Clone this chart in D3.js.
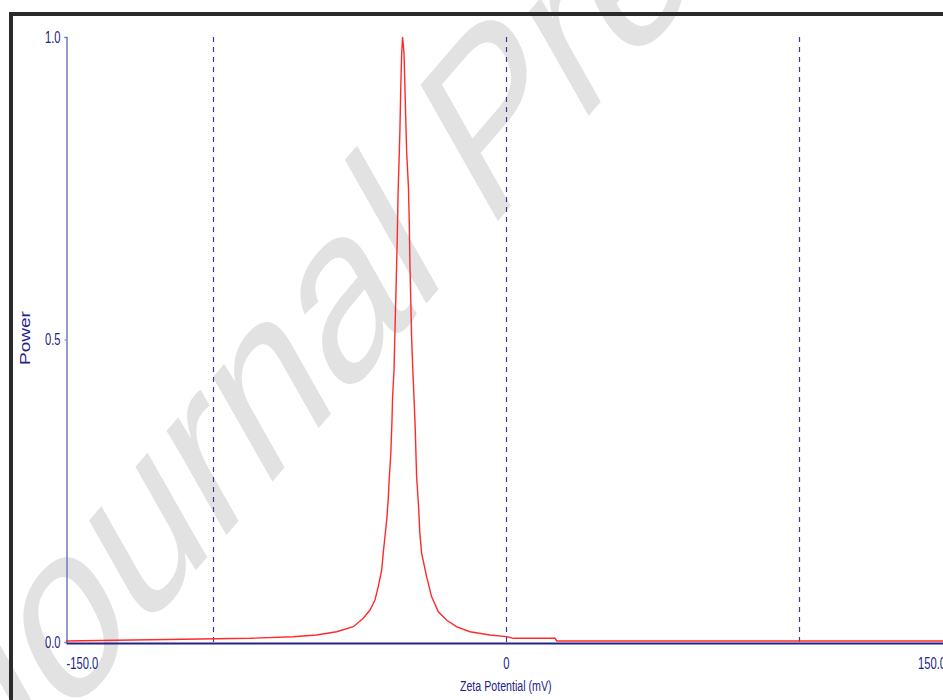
<!DOCTYPE html>
<html>
<head>
<meta charset="utf-8">
<script src="https://cdn.jsdelivr.net/npm/d3@7"></script>
<style>
  body { margin: 0; background: #fff; }
  svg { display: block; font-family: "Liberation Sans", Arial, sans-serif; }
</style>
</head>
<body>
<div id="chart"></div>
<script>
// zeta potential distribution
const zeta = [-150, -87.3, -72.5, -64.5, -57.7, -52.0, -48.6, -46.3, -44.6, -43.5, -42.3, -41.8, -41.2,
  -40.6, -40.1, -39.7, -39.2, -38.8, -38.6, -38.1, -37.8, -37.4, -37.0, -36.7, -36.3, -36.1, -35.8,
  -35.5, -35.2, -34.7, -34.4, -34.1, -33.8, -33.2, -32.9, -32.7, -32.4, -32.1, -31.7, -31.3, -30.9,
  -30.4, -29.8, -29.3, -28.7, -27.0, -25.3, -23.0, -20.1, -16.7, -12.2, -5.4, 0.3, 2.6, 16.8, 17.4, 150];
const power = [0.0017, 0.0061, 0.0088, 0.0116, 0.017, 0.0253, 0.0392, 0.0529, 0.0694, 0.0914, 0.119, 0.147, 0.174,
  0.202, 0.235, 0.273, 0.312, 0.367, 0.405, 0.45, 0.513, 0.587, 0.67, 0.747, 0.81, 0.846, 0.918,
  0.973, 1.0, 0.973, 0.918, 0.863, 0.81, 0.753, 0.692, 0.629, 0.565, 0.502, 0.45, 0.405, 0.356,
  0.273, 0.229, 0.18, 0.147, 0.108, 0.075, 0.05, 0.036, 0.025, 0.017, 0.0116, 0.0088, 0.0061, 0.0061, 0.0017, 0.0017];

const xTicks = [-150, 0, 150];
const xTickLabels = ["-150.0", "0", "150.0"];
const yTicks = [0, 0.5, 1];
const yTickLabels = ["0.0", "0.5", "1.0"];
const gridLines = [-100, 0, 100];

const width = 943;
const height = 700;
const navy = "#22228c";

const svg = d3.select("#chart").append("svg")
    .attr("width", width)
    .attr("height", height);

svg.append("rect").attr("width", width).attr("height", height).attr("fill", "#fff");

// watermark, the page it came from was squeezed horizontally
svg.append("g")
    .attr("transform", "scale(0.7,1)")
    .append("text")
    .attr("transform", "translate(-10,805) rotate(-39)")
    .attr("font-size", 255)
    .attr("fill", "#e2e2e2")
    .text("Journal Pre-proof");

const x = d3.scaleLinear().domain([-150, 150]).range([66, 945.5]);
const y = d3.scaleLinear().domain([0, 1]).range([642, 37]);

// dashed verticals
svg.selectAll(".grid").data(gridLines).enter().append("line")
    .attr("class", "grid")
    .attr("x1", d => Math.round(x(d)) + 0.5)
    .attr("x2", d => Math.round(x(d)) + 0.5)
    .attr("y1", y(1))
    .attr("y2", y(0))
    .attr("stroke", "#3a3a94")
    .attr("stroke-width", 1.2)
    .attr("stroke-dasharray", "5,5");

// y axis
const yAxis = svg.append("g")
    .attr("transform", `translate(${x(-150) + 0.5},0)`)
    .call(d3.axisLeft(y).tickValues(yTicks).tickFormat((d, i) => yTickLabels[i]).tickSize(2).tickPadding(0));
yAxis.select(".domain").attr("stroke", "#7676c6").attr("stroke-width", 1.5);
yAxis.selectAll(".tick line").attr("stroke", "#7676c6");
yAxis.selectAll(".tick text")
    .attr("x", 0)
    .attr("transform", "translate(-6,0) scale(0.7,1)")
    .attr("font-size", 16)
    .attr("fill", navy);

// x axis
const xAxis = svg.append("g")
    .attr("transform", `translate(0,643)`)
    .call(d3.axisBottom(x).tickValues(xTicks).tickFormat((d, i) => xTickLabels[i]).tickSize(0));
xAxis.select(".domain").attr("stroke", navy).attr("stroke-width", 2);
xAxis.selectAll(".tick text")
    .attr("y", 26)
    .attr("dy", 0)
    .attr("text-anchor", (d, i) => i === 0 ? "start" : (i === xTicks.length - 1 ? "end" : "middle"))
    .attr("transform", "scale(0.7,1)")
    .attr("font-size", 16)
    .attr("fill", navy);

// curve
const line = d3.line()
    .x((d, i) => x(zeta[i]))
    .y((d, i) => y(power[i]));

svg.append("path")
    .datum(power)
    .attr("d", line)
    .attr("fill", "none")
    .attr("stroke", "#ff2a2a")
    .attr("stroke-width", 1.4);

// axis titles
svg.append("text")
    .attr("transform", `translate(${x(0)},691) scale(0.71,1)`)
    .attr("text-anchor", "middle")
    .attr("font-size", 15)
    .attr("fill", navy)
    .text("Zeta Potential (mV)");

svg.append("text")
    .attr("transform", "translate(30,338) scale(0.75,1) rotate(-90)")
    .attr("text-anchor", "middle")
    .attr("font-size", 19)
    .attr("fill", navy)
    .text("Power");

// outer frame (cut off at the right and bottom)
svg.append("rect")
    .attr("x", 11)
    .attr("y", 14)
    .attr("width", 1000)
    .attr("height", 1000)
    .attr("fill", "none")
    .attr("stroke", "#2a2a2a")
    .attr("stroke-width", 4);
</script>
</body>
</html>
